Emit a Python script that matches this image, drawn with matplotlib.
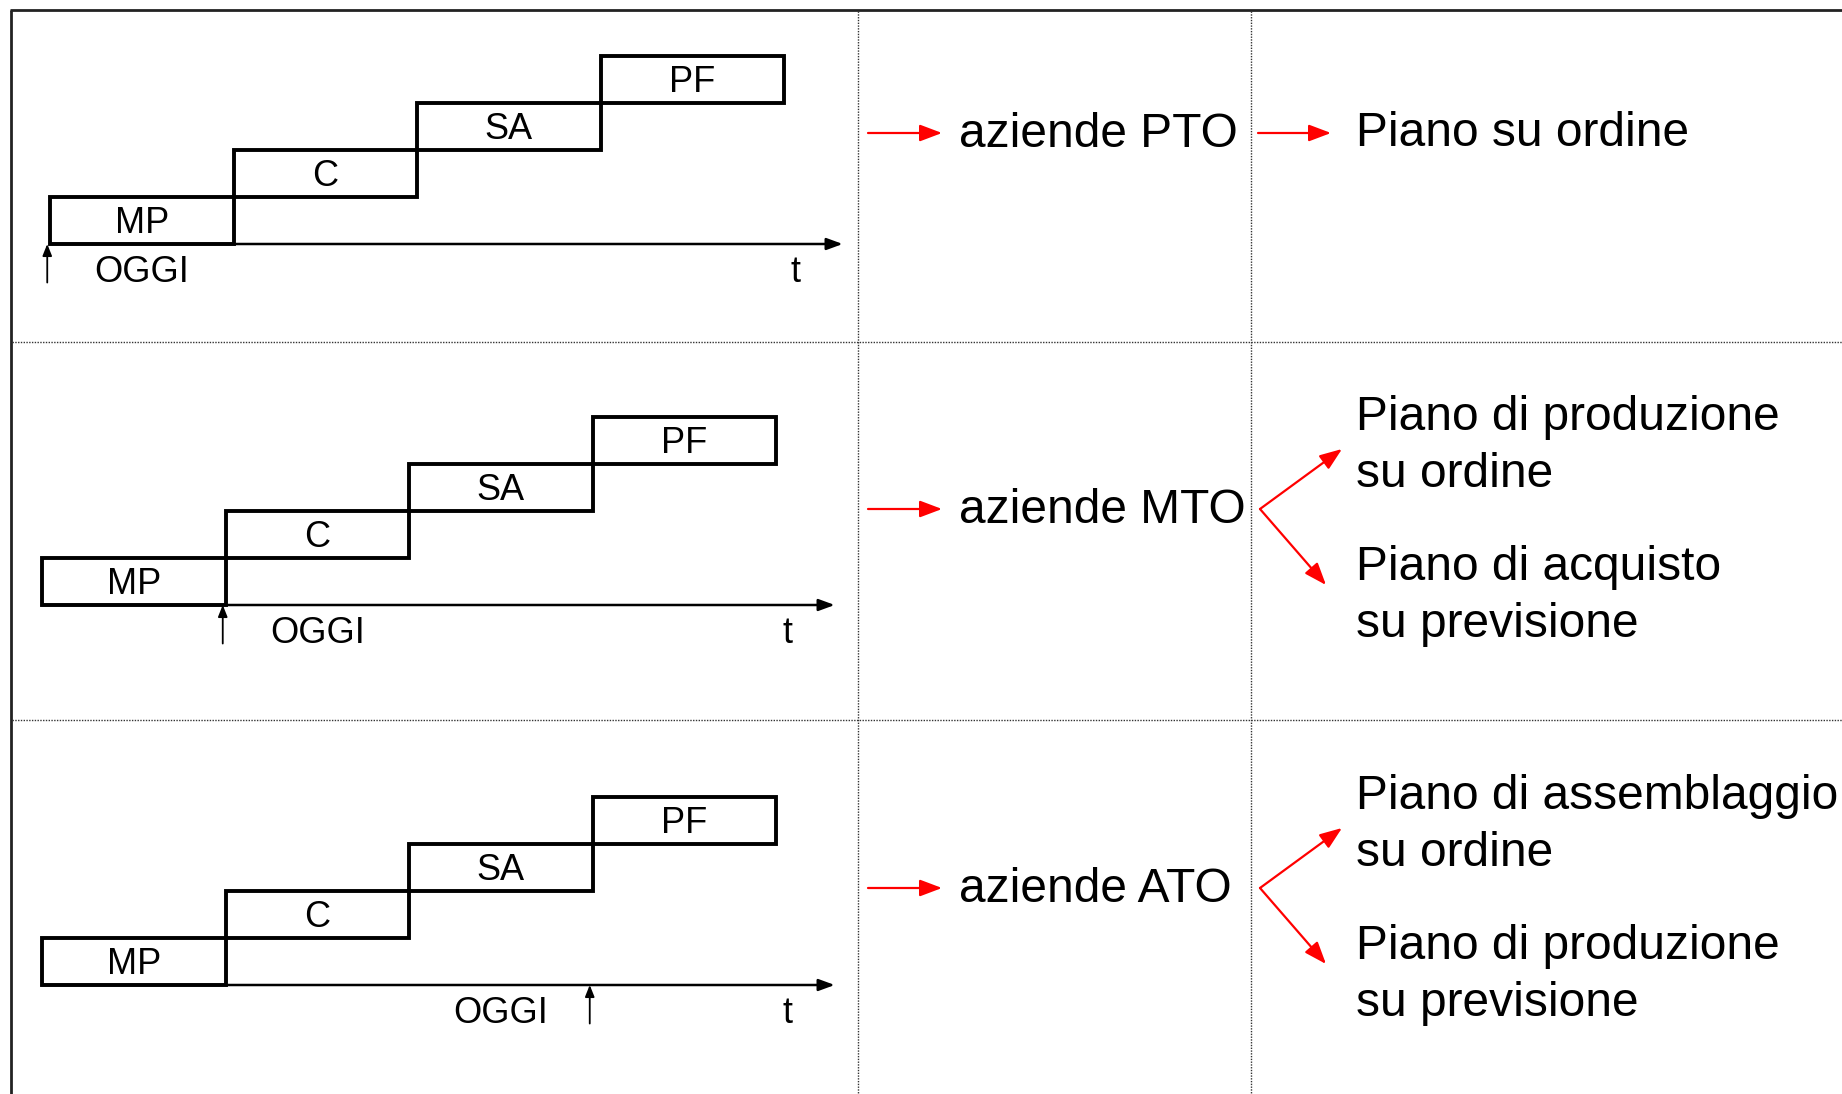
import matplotlib.pyplot as plt
from matplotlib.patches import Rectangle

plt.rcParams['font.family'] = ['Liberation Sans', 'DejaVu Sans']

# supply chain stages: one box per stage, in time units / levels
stages = ['MP', 'C', 'SA', 'PF']
stage_start = [0, 1, 2, 3]
stage_len = [1, 1, 1, 1]
stage_level = [0, 1, 2, 3]

# where "OGGI" (today) falls on the time axis of each row, and its label
oggi_t = [0, 1, 3]
oggi_label_t = [0.5, 1.5, 2.5]
t_end = 4.32

companies = ['aziende PTO', 'aziende MTO', 'aziende ATO']
plans = [
    [['Piano su ordine']],
    [['Piano di produzione', 'su ordine'], ['Piano di acquisto', 'su previsione']],
    [['Piano di assemblaggio', 'su ordine'], ['Piano di produzione', 'su previsione']],
]

W, H = 1842, 1094
fig = plt.figure(figsize=(W / 100, H / 100), dpi=100)

bg = fig.add_axes([0, 0, 1, 1])
bg.set_xlim(0, W)
bg.set_ylim(H, 0)
bg.axis('off')

# table frame and dotted cell borders
bg.plot([10, W], [10, 10], color='#222', lw=2, solid_capstyle='butt')
bg.plot([11, 11], [10, H], color='#222', lw=2, solid_capstyle='butt')
dot = dict(color='#333', lw=1.0, ls=(0, (1, 1)))
for x in [858, 1251]:
    bg.plot([x, x], [11, H], **dot)
for y in [342, 720]:
    bg.plot([12, W], [y, y], **dot)

# left column: stage diagrams, one small axes per row
px_t, px_lvl = 183.5, 47
x_lo, x_hi, y_lo, y_hi = -0.25, 4.5, -1.3, 4.3
origins = [(50, 244), (42, 605), (42, 985)]
small = 26

for i, (x0, y0) in enumerate(origins):
    ax = fig.add_axes([(x0 + x_lo * px_t) / W,
                       (H - y0 + y_lo * px_lvl) / H,
                       (x_hi - x_lo) * px_t / W,
                       (y_hi - y_lo) * px_lvl / H])
    ax.set_xlim(x_lo, x_hi)
    ax.set_ylim(y_lo, y_hi)
    ax.axis('off')

    ax.annotate('', xy=(t_end, 0), xytext=(0, 0),
                arrowprops=dict(arrowstyle='-|>,head_length=0.6,head_width=0.22',
                                color='black', lw=1.8, mutation_scale=16,
                                shrinkA=0, shrinkB=0))
    for name, s, d, lv in zip(stages, stage_start, stage_len, stage_level):
        ax.add_patch(Rectangle((s, lv), d, 1, fill=False, ec='black', lw=2.8,
                               joinstyle='miter'))
        ax.text(s + d / 2, lv + 0.23, name, ha='center', va='baseline', fontsize=small)

    ax.text(4.06, -0.8, 't', ha='center', va='baseline', fontsize=small)
    ax.text(oggi_label_t[i], -0.8, 'OGGI', ha='center', va='baseline', fontsize=small)
    ax.annotate('', xy=(oggi_t[i] - 0.015, 0), xytext=(oggi_t[i] - 0.015, -0.82),
                arrowprops=dict(arrowstyle='-|>,head_length=0.5,head_width=0.2',
                                color='black', lw=1.3, mutation_scale=14,
                                shrinkA=0, shrinkB=0))

# right columns: company type -> planning
red = dict(arrowstyle='-|>,head_length=0.45,head_width=0.17', color='red', lw=1.6,
           mutation_scale=30, shrinkA=0, shrinkB=0)
big = 34.5
row_y = [133, 509, 888]

for i, yc in enumerate(row_y):
    bg.annotate('', xy=(942, yc), xytext=(868, yc), arrowprops=red)
    bg.text(959, yc + 14, companies[i], fontsize=big, va='baseline')
    if len(plans[i]) == 1:
        bg.annotate('', xy=(1331, yc), xytext=(1258, yc), arrowprops=red)
        bg.text(1356, yc + 13, plans[i][0][0], fontsize=big, va='baseline')
    else:
        tips = [(1342, yc - 60), (1326, yc + 76)]
        bases = [yc - 79, yc + 71]
        for tip, base, lines in zip(tips, bases, plans[i]):
            bg.annotate('', xy=tip, xytext=(1260, yc), arrowprops=red)
            for k, line in enumerate(lines):
                bg.text(1356, base + 57 * k, line, fontsize=big, va='baseline')

fig.savefig('out.png', dpi=100)
